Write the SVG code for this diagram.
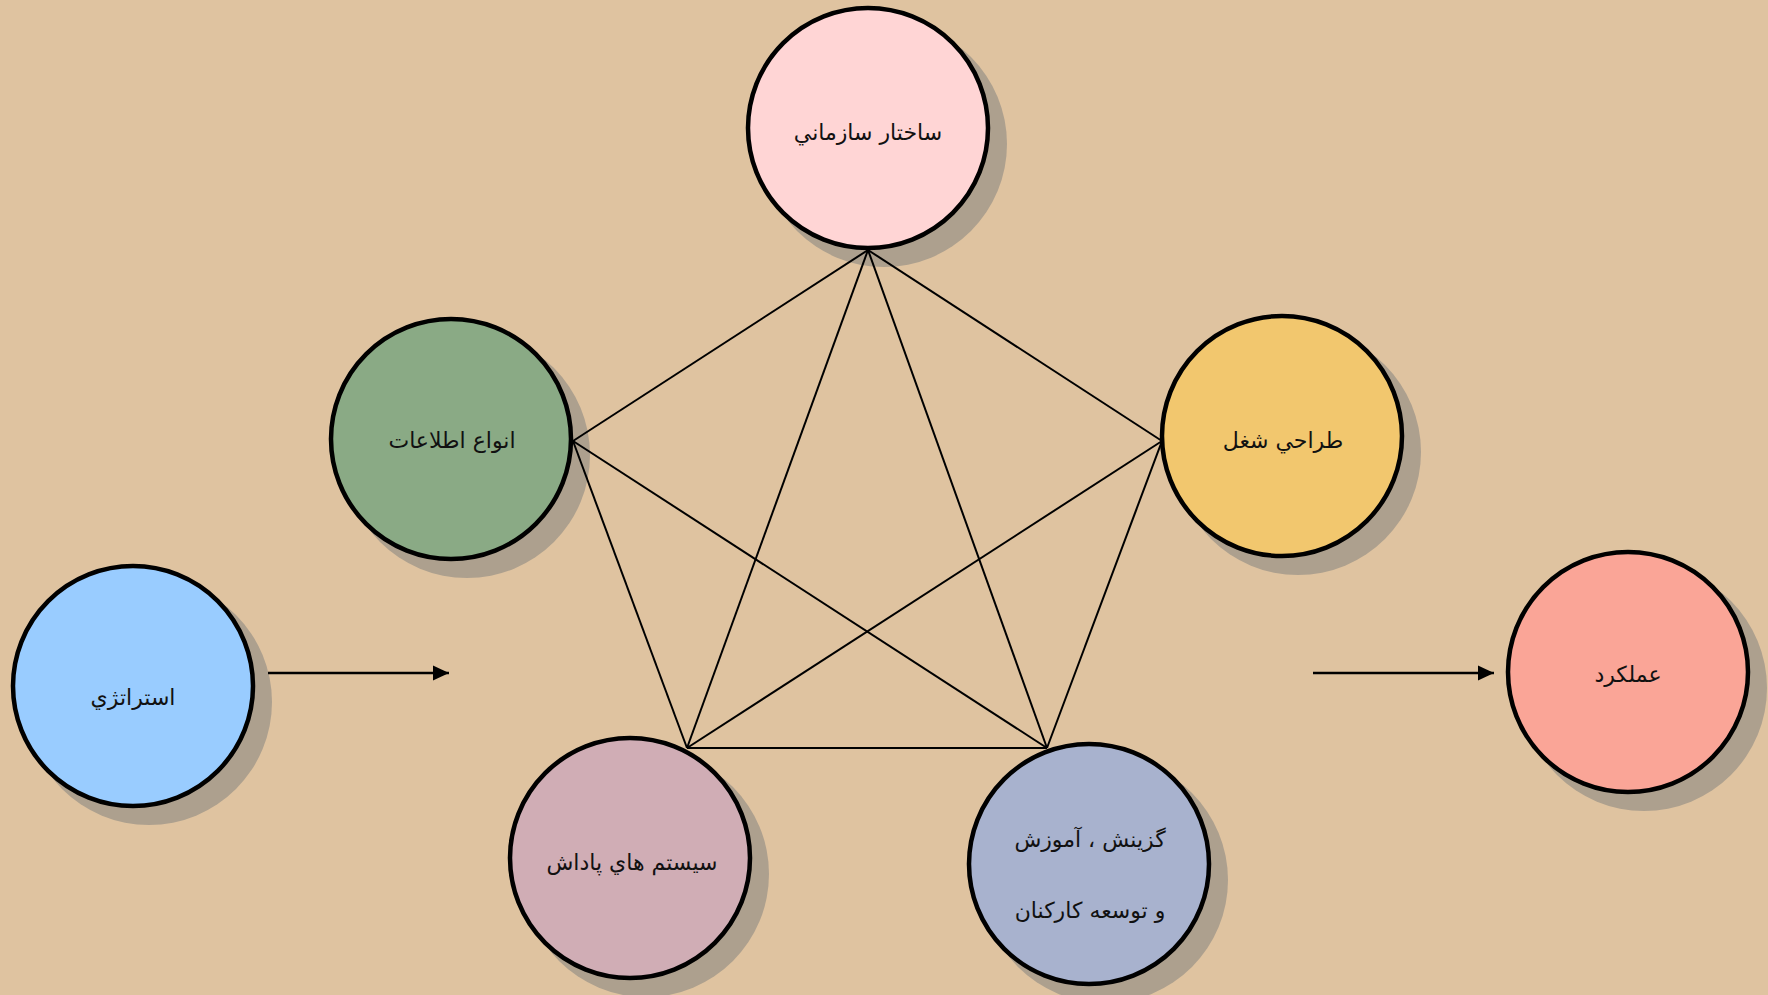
<svg xmlns="http://www.w3.org/2000/svg" width="1768" height="995" viewBox="0 0 1768 995">
<style>
.sh{fill:#ADA08E;stroke:none}
.c{stroke:#000;stroke-width:4.5}
.t{font-family:"DejaVu Sans",sans-serif;font-size:22px;fill:#111;text-anchor:middle}
.ln{stroke:#000;stroke-width:2;fill:none}
.ar{stroke:#000;stroke-width:2.5;fill:none}
</style>
<defs>
<marker id="ah" viewBox="0 0 16 16" refX="16" refY="8" markerWidth="16" markerHeight="16" markerUnits="userSpaceOnUse" orient="auto">
<path d="M0,0.5 L16,8 L0,15.5 Z" fill="#000"/>
</marker>
</defs>
<rect width="1768" height="995" fill="#DFC3A0"/>
<g id="shadows">
<circle class="sh" cx="884" cy="144" r="123"/>
<circle class="sh" cx="467" cy="455" r="123"/>
<circle class="sh" cx="149" cy="702" r="123"/>
<circle class="sh" cx="1298" cy="452" r="123"/>
<circle class="sh" cx="646" cy="874" r="123"/>
<circle class="sh" cx="1105" cy="880" r="123"/>
<circle class="sh" cx="1644" cy="688" r="123"/>
</g>
<g id="connectors">
<line class="ln" x1="868" y1="250" x2="573" y2="441"/>
<line class="ln" x1="868" y1="250" x2="1162" y2="441"/>
<line class="ln" x1="868" y1="250" x2="687" y2="748"/>
<line class="ln" x1="868" y1="250" x2="1047" y2="748"/>
<line class="ln" x1="573" y1="441" x2="687" y2="748"/>
<line class="ln" x1="573" y1="441" x2="1047" y2="748"/>
<line class="ln" x1="1162" y1="441" x2="687" y2="748"/>
<line class="ln" x1="1162" y1="441" x2="1047" y2="748"/>
<line class="ln" x1="687" y1="748" x2="1047" y2="748"/>
<line class="ar" x1="268" y1="673" x2="449" y2="673" marker-end="url(#ah)"/>
<line class="ar" x1="1313" y1="673" x2="1494" y2="673" marker-end="url(#ah)"/>
</g>
<g id="n-structure">
<circle class="c" cx="868" cy="128" r="120" fill="#FFD5D5"/>
<text class="t" x="868" y="140">ساختار سازماني</text>
</g>
<g id="n-info">
<circle class="c" cx="451" cy="439" r="120" fill="#8AAA85"/>
<text class="t" x="452" y="448">انواع اطلاعات</text>
</g>
<g id="n-strategy">
<circle class="c" cx="133" cy="686" r="120" fill="#99CCFF"/>
<text class="t" x="133" y="705">استراتژي</text>
</g>
<g id="n-job">
<circle class="c" cx="1282" cy="436" r="120" fill="#F2C76E"/>
<text class="t" x="1283" y="448">طراحي شغل</text>
</g>
<g id="n-reward">
<circle class="c" cx="630" cy="858" r="120" fill="#D0ADB5"/>
<text class="t" x="632" y="870">سيستم هاي پاداش</text>
</g>
<g id="n-hr">
<circle class="c" cx="1089" cy="864" r="120" fill="#A8B2CE"/>
<text class="t" x="1090" y="847">گزينش ، آموزش</text>
<text class="t" x="1090" y="918">و توسعه كاركنان</text>
</g>
<g id="n-performance">
<circle class="c" cx="1628" cy="672" r="120" fill="#FAA597"/>
<text class="t" x="1628" y="682">عملكرد</text>
</g>
</svg>
